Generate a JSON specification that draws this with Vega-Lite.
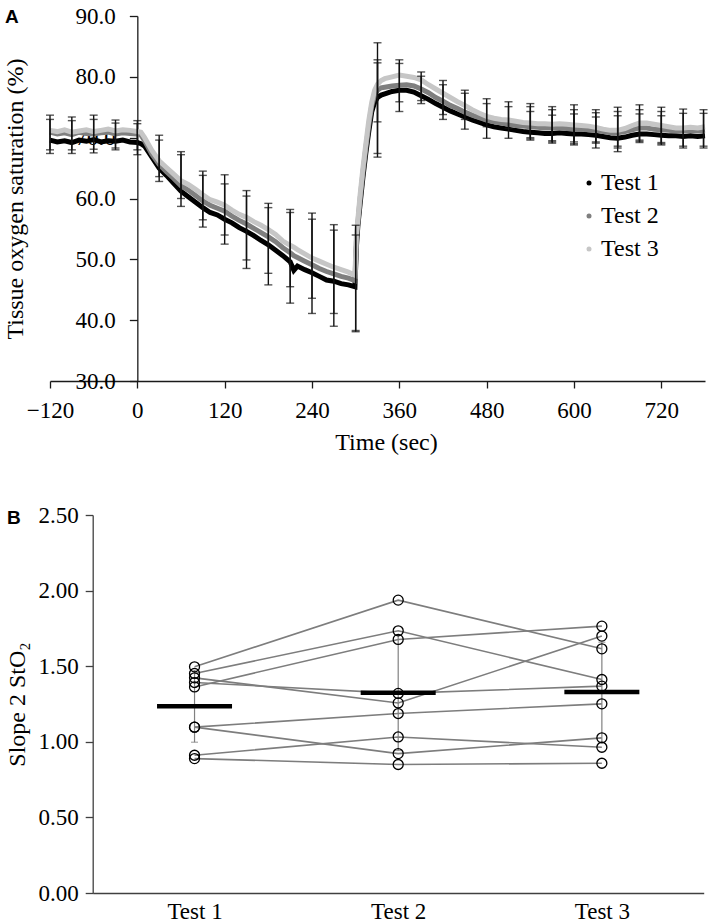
{
  "$schema": "https://vega.github.io/schema/vega-lite/v6.json",
  "background": "white",
  "padding": {"left": 3, "top": 5, "right": 5, "bottom": 5},
  "spacing": 134,
  "bounds": "flush",
  "config": {
    "view": {"stroke": null},
    "font": "Liberation Serif",
    "axis": {
      "labelFont": "Liberation Serif", "titleFont": "Liberation Serif",
      "labelColor": "#000", "titleColor": "#000", "titleFontWeight": "normal",
      "labelFontSize": 23, "titleFontSize": 24, "grid": false, "labelFlush": false, "labelOverlap": false
    }
  },
  "vconcat": [
    {
      "width": 655, "height": 365,
      "title": {"text": "A", "anchor": "start", "frame": "group", "orient": "top", "offset": -37, "dx": -45, "font": "Liberation Sans", "fontWeight": "bold", "fontSize": 19, "baseline": "alphabetic", "color": "#000"},
      "layer": [
        {
          "data": {"values": [
            {"t":-120,"Test 1":69.6,"Test 2":70.9,"Test 3":71.2},
            {"t":-110,"Test 1":69.3,"Test 2":70.6,"Test 3":71.0},
            {"t":-100,"Test 1":69.5,"Test 2":70.8,"Test 3":71.3},
            {"t":-90,"Test 1":69.2,"Test 2":70.5,"Test 3":70.9},
            {"t":-80,"Test 1":69.6,"Test 2":70.9,"Test 3":71.1},
            {"t":-70,"Test 1":69.4,"Test 2":70.7,"Test 3":71.3},
            {"t":-60,"Test 1":69.7,"Test 2":70.6,"Test 3":71.0},
            {"t":-50,"Test 1":69.3,"Test 2":70.8,"Test 3":71.2},
            {"t":-40,"Test 1":69.5,"Test 2":70.9,"Test 3":71.4},
            {"t":-30,"Test 1":69.4,"Test 2":70.6,"Test 3":71.1},
            {"t":-20,"Test 1":69.6,"Test 2":70.8,"Test 3":71.3},
            {"t":-10,"Test 1":69.3,"Test 2":70.7,"Test 3":71.2},
            {"t":0,"Test 1":69.2,"Test 2":70.6,"Test 3":71.0},
            {"t":5,"Test 1":69.0,"Test 2":70.4,"Test 3":70.9},
            {"t":10,"Test 1":68.6,"Test 2":69.5,"Test 3":70.0},
            {"t":20,"Test 1":66.8,"Test 2":67.3,"Test 3":67.9},
            {"t":30,"Test 1":65.0,"Test 2":65.6,"Test 3":66.2},
            {"t":40,"Test 1":63.8,"Test 2":64.4,"Test 3":65.1},
            {"t":50,"Test 1":62.5,"Test 2":63.3,"Test 3":64.0},
            {"t":60,"Test 1":61.2,"Test 2":62.1,"Test 3":62.9},
            {"t":70,"Test 1":60.3,"Test 2":61.4,"Test 3":62.3},
            {"t":80,"Test 1":59.4,"Test 2":60.5,"Test 3":61.5},
            {"t":90,"Test 1":58.5,"Test 2":59.6,"Test 3":60.6},
            {"t":100,"Test 1":57.7,"Test 2":58.9,"Test 3":59.8},
            {"t":110,"Test 1":57.3,"Test 2":58.4,"Test 3":59.4},
            {"t":120,"Test 1":56.6,"Test 2":57.9,"Test 3":58.9},
            {"t":130,"Test 1":56.0,"Test 2":57.1,"Test 3":58.1},
            {"t":140,"Test 1":55.2,"Test 2":56.4,"Test 3":57.4},
            {"t":150,"Test 1":54.6,"Test 2":55.8,"Test 3":56.9},
            {"t":160,"Test 1":53.9,"Test 2":55.1,"Test 3":56.2},
            {"t":170,"Test 1":53.1,"Test 2":54.4,"Test 3":55.6},
            {"t":180,"Test 1":52.4,"Test 2":53.7,"Test 3":54.9},
            {"t":190,"Test 1":51.5,"Test 2":52.9,"Test 3":54.1},
            {"t":200,"Test 1":50.6,"Test 2":51.9,"Test 3":53.0},
            {"t":210,"Test 1":49.6,"Test 2":51.1,"Test 3":52.3},
            {"t":215,"Test 1":48.2,"Test 2":50.6,"Test 3":52.0},
            {"t":220,"Test 1":48.9,"Test 2":50.3,"Test 3":51.6},
            {"t":230,"Test 1":48.3,"Test 2":49.7,"Test 3":50.9},
            {"t":240,"Test 1":47.8,"Test 2":49.1,"Test 3":50.2},
            {"t":250,"Test 1":47.2,"Test 2":48.5,"Test 3":49.7},
            {"t":260,"Test 1":46.6,"Test 2":48.0,"Test 3":49.2},
            {"t":270,"Test 1":46.4,"Test 2":47.6,"Test 3":48.7},
            {"t":280,"Test 1":46.0,"Test 2":47.2,"Test 3":48.3},
            {"t":290,"Test 1":45.8,"Test 2":46.9,"Test 3":47.9},
            {"t":299,"Test 1":45.5,"Test 2":46.5,"Test 3":47.4},
            {"t":301,"Test 1":52.0,"Test 2":53.0,"Test 3":54.0},
            {"t":303,"Test 1":55.5,"Test 2":56.0,"Test 3":56.5},
            {"t":306,"Test 1":59.0,"Test 2":59.8,"Test 3":60.5},
            {"t":310,"Test 1":63.5,"Test 2":64.3,"Test 3":65.0},
            {"t":314,"Test 1":67.5,"Test 2":68.3,"Test 3":69.0},
            {"t":318,"Test 1":71.0,"Test 2":72.0,"Test 3":72.8},
            {"t":322,"Test 1":74.2,"Test 2":75.2,"Test 3":75.8},
            {"t":326,"Test 1":75.8,"Test 2":77.0,"Test 3":77.8},
            {"t":330,"Test 1":76.6,"Test 2":77.8,"Test 3":78.8},
            {"t":335,"Test 1":77.0,"Test 2":78.2,"Test 3":79.4},
            {"t":340,"Test 1":77.2,"Test 2":78.3,"Test 3":79.7},
            {"t":350,"Test 1":77.6,"Test 2":78.5,"Test 3":80.0},
            {"t":360,"Test 1":77.8,"Test 2":78.6,"Test 3":80.3},
            {"t":370,"Test 1":77.8,"Test 2":78.7,"Test 3":80.1},
            {"t":380,"Test 1":77.5,"Test 2":78.5,"Test 3":79.9},
            {"t":390,"Test 1":76.9,"Test 2":78.0,"Test 3":79.5},
            {"t":400,"Test 1":76.3,"Test 2":77.4,"Test 3":78.7},
            {"t":410,"Test 1":75.6,"Test 2":76.6,"Test 3":78.0},
            {"t":420,"Test 1":75.0,"Test 2":76.0,"Test 3":77.3},
            {"t":430,"Test 1":74.4,"Test 2":75.3,"Test 3":76.6},
            {"t":440,"Test 1":73.9,"Test 2":74.8,"Test 3":75.9},
            {"t":450,"Test 1":73.4,"Test 2":74.2,"Test 3":75.3},
            {"t":460,"Test 1":72.9,"Test 2":73.7,"Test 3":74.6},
            {"t":470,"Test 1":72.5,"Test 2":73.3,"Test 3":74.0},
            {"t":480,"Test 1":72.1,"Test 2":72.9,"Test 3":73.5},
            {"t":490,"Test 1":71.8,"Test 2":72.6,"Test 3":73.2},
            {"t":500,"Test 1":71.6,"Test 2":72.4,"Test 3":73.0},
            {"t":510,"Test 1":71.4,"Test 2":72.2,"Test 3":72.9},
            {"t":520,"Test 1":71.2,"Test 2":72.0,"Test 3":72.7},
            {"t":530,"Test 1":71.0,"Test 2":71.9,"Test 3":72.5},
            {"t":540,"Test 1":70.9,"Test 2":71.8,"Test 3":72.4},
            {"t":550,"Test 1":70.8,"Test 2":71.7,"Test 3":72.3},
            {"t":560,"Test 1":70.7,"Test 2":71.6,"Test 3":72.3},
            {"t":570,"Test 1":70.7,"Test 2":71.6,"Test 3":72.2},
            {"t":580,"Test 1":70.8,"Test 2":71.6,"Test 3":72.3},
            {"t":590,"Test 1":70.7,"Test 2":71.5,"Test 3":72.2},
            {"t":600,"Test 1":70.6,"Test 2":71.5,"Test 3":72.1},
            {"t":610,"Test 1":70.6,"Test 2":71.4,"Test 3":72.0},
            {"t":620,"Test 1":70.5,"Test 2":71.3,"Test 3":71.9},
            {"t":630,"Test 1":70.4,"Test 2":71.2,"Test 3":71.7},
            {"t":640,"Test 1":70.2,"Test 2":71.0,"Test 3":71.4},
            {"t":650,"Test 1":70.0,"Test 2":70.8,"Test 3":71.2},
            {"t":660,"Test 1":69.9,"Test 2":70.8,"Test 3":71.2},
            {"t":670,"Test 1":70.1,"Test 2":71.0,"Test 3":71.5},
            {"t":680,"Test 1":70.4,"Test 2":71.3,"Test 3":72.0},
            {"t":690,"Test 1":70.6,"Test 2":71.6,"Test 3":72.4},
            {"t":700,"Test 1":70.6,"Test 2":71.6,"Test 3":72.4},
            {"t":710,"Test 1":70.5,"Test 2":71.4,"Test 3":72.2},
            {"t":720,"Test 1":70.4,"Test 2":71.3,"Test 3":72.0},
            {"t":730,"Test 1":70.3,"Test 2":71.2,"Test 3":71.8},
            {"t":740,"Test 1":70.3,"Test 2":71.1,"Test 3":71.6},
            {"t":750,"Test 1":70.2,"Test 2":71.1,"Test 3":71.6},
            {"t":760,"Test 1":70.3,"Test 2":71.2,"Test 3":71.7},
            {"t":770,"Test 1":70.2,"Test 2":71.1,"Test 3":71.6},
            {"t":780,"Test 1":70.3,"Test 2":71.2,"Test 3":71.8}
          ]},
          "transform": [{"fold": ["Test 1", "Test 2", "Test 3"], "as": ["test", "sto2"]}],
          "mark": {"type": "line", "strokeWidth": 5},
          "encoding": {
            "x": {"field": "t", "type": "quantitative",
              "scale": {"domain": [-120, 780], "nice": false, "zero": false},
              "axis": {"title": "Time (sec)", "values": [-120, 0, 120, 240, 360, 480, 600, 720], "tickSize": 7, "labelPadding": 11, "titlePadding": 8, "titleX": 336, "domainColor": "#1a1a1a", "tickColor": "#1a1a1a", "domainWidth": 1.3, "tickWidth": 1.3}},
            "y": {"field": "sto2", "type": "quantitative",
              "scale": {"domain": [30, 90], "nice": false, "zero": false},
              "axis": {"title": "Tissue oxygen saturation (%)", "values": [30, 40, 50, 60, 70, 80, 90], "format": ".1f", "offset": -87.33, "tickSize": 8, "labelPadding": 14, "titlePadding": 48, "domainColor": "#1a1a1a", "tickColor": "#1a1a1a", "domainWidth": 1.3, "tickWidth": 1.3}},
            "color": {"field": "test", "type": "nominal",
              "scale": {"domain": ["Test 1", "Test 2", "Test 3"], "range": ["#000000", "#7f7f7f", "#c6c6c6"]},
              "legend": {"title": null, "orient": "none", "legendX": 527, "legendY": 155, "symbolType": "circle", "symbolSize": 25, "symbolStrokeWidth": 0, "labelFont": "Liberation Serif", "labelFontSize": 24, "labelColor": "#000", "rowPadding": 9, "labelOffset": 0,
                "encode": {"symbols": {"update": {"fill": {"scale": "color", "field": "value"}, "opacity": {"value": 1}}}}}}
          }
        },
        {
          "data": {"values": [
            {"t":-120,"lo":67.4,"hi":73.7},{"t":-120,"lo":68.0,"hi":73.0},
            {"t":-90,"lo":67.4,"hi":73.4},{"t":-90,"lo":68.0,"hi":72.8},
            {"t":-60,"lo":67.5,"hi":73.7},{"t":-60,"lo":68.1,"hi":73.0},
            {"t":-30,"lo":68.0,"hi":72.9},{"t":-30,"lo":68.3,"hi":72.4},
            {"t":0,"lo":67.2,"hi":72.8},{"t":0,"lo":68.0,"hi":72.3},
            {"t":30,"lo":62.8,"hi":70.4},{"t":30,"lo":63.6,"hi":69.6},
            {"t":60,"lo":58.7,"hi":67.7},{"t":60,"lo":60.0,"hi":67.2},
            {"t":90,"lo":55.3,"hi":64.5},{"t":90,"lo":56.5,"hi":63.8},
            {"t":120,"lo":52.5,"hi":63.9},{"t":120,"lo":54.0,"hi":62.4},
            {"t":150,"lo":48.5,"hi":61.3},{"t":150,"lo":49.9,"hi":60.4},
            {"t":180,"lo":45.8,"hi":59.2},{"t":180,"lo":47.7,"hi":58.5},
            {"t":210,"lo":42.8,"hi":58.2},{"t":210,"lo":45.5,"hi":57.7},
            {"t":240,"lo":41.1,"hi":57.6},{"t":240,"lo":43.6,"hi":56.6},
            {"t":270,"lo":39.0,"hi":55.7},{"t":270,"lo":41.1,"hi":54.8},
            {"t":300,"lo":38.1,"hi":55.6},{"t":300,"lo":38.3,"hi":54.0},
            {"t":330,"lo":67.4,"hi":85.6},{"t":330,"lo":66.8,"hi":82.8},{"t":330,"lo":72.6,"hi":82.3},
            {"t":360,"lo":75.9,"hi":82.8},{"t":360,"lo":74.3,"hi":82.2},
            {"t":390,"lo":76.1,"hi":80.8},{"t":390,"lo":75.6,"hi":80.1},
            {"t":420,"lo":73.8,"hi":79.4},{"t":420,"lo":73.0,"hi":78.7},
            {"t":450,"lo":73.0,"hi":77.8},{"t":450,"lo":71.4,"hi":77.3},
            {"t":480,"lo":71.8,"hi":76.4},{"t":480,"lo":69.9,"hi":75.6},
            {"t":510,"lo":71.5,"hi":75.9},{"t":510,"lo":69.9,"hi":75.1},
            {"t":540,"lo":69.6,"hi":75.6},{"t":540,"lo":69.8,"hi":75.1},{"t":540,"lo":70.0,"hi":74.3},
            {"t":570,"lo":69.1,"hi":75.1},{"t":570,"lo":69.3,"hi":74.6},{"t":570,"lo":69.5,"hi":73.7},
            {"t":600,"lo":68.8,"hi":75.4},{"t":600,"lo":69.0,"hi":74.6},{"t":600,"lo":69.3,"hi":73.9},
            {"t":630,"lo":68.3,"hi":74.6},{"t":630,"lo":69.1,"hi":74.1},{"t":630,"lo":69.3,"hi":73.4},
            {"t":660,"lo":67.7,"hi":75.0},{"t":660,"lo":68.3,"hi":74.3},{"t":660,"lo":68.6,"hi":73.6},
            {"t":690,"lo":69.2,"hi":75.4},{"t":690,"lo":69.4,"hi":74.6},{"t":690,"lo":69.6,"hi":73.9},
            {"t":720,"lo":68.8,"hi":75.0},{"t":720,"lo":69.0,"hi":74.3},{"t":720,"lo":69.2,"hi":73.6},
            {"t":750,"lo":68.3,"hi":74.7},{"t":750,"lo":68.6,"hi":74.0},
            {"t":778,"lo":68.3,"hi":74.6},{"t":778,"lo":68.6,"hi":74.0}
          ]},
          "mark": {"type": "errorbar", "ticks": {"size": 8, "thickness": 1.4, "color": "#111"}, "rule": {"strokeWidth": 1.4, "color": "#111"}},
          "encoding": {
            "x": {"field": "t", "type": "quantitative"},
            "y": {"field": "lo", "type": "quantitative", "title": "Tissue oxygen saturation (%)"},
            "y2": {"field": "hi"}
          }
        }
      ]
    },
    {
      "width": 654, "height": 378,
      "title": {"text": "B", "anchor": "start", "frame": "group", "orient": "top", "offset": -39, "dx": -43, "font": "Liberation Sans", "fontWeight": "bold", "fontSize": 19, "baseline": "alphabetic", "color": "#000"},
      "data": {"values": [
        {"subject":"a","test":"Test 1","value":1.496},{"subject":"a","test":"Test 2","value":1.937},{"subject":"a","test":"Test 3","value":1.615},
        {"subject":"b","test":"Test 1","value":1.452},{"subject":"b","test":"Test 2","value":1.734},{"subject":"b","test":"Test 3","value":1.412},
        {"subject":"c","test":"Test 1","value":1.363},{"subject":"c","test":"Test 2","value":1.677},{"subject":"c","test":"Test 3","value":1.765},
        {"subject":"d","test":"Test 1","value":1.392},{"subject":"d","test":"Test 2","value":1.320},{"subject":"d","test":"Test 3","value":1.368},
        {"subject":"e","test":"Test 1","value":1.423},{"subject":"e","test":"Test 2","value":1.257},{"subject":"e","test":"Test 3","value":1.699},
        {"subject":"f","test":"Test 1","value":1.097},{"subject":"f","test":"Test 2","value":1.187},{"subject":"f","test":"Test 3","value":1.251},
        {"subject":"g","test":"Test 1","value":1.097},{"subject":"g","test":"Test 2","value":0.922},{"subject":"g","test":"Test 3","value":1.026},
        {"subject":"h","test":"Test 1","value":0.911},{"subject":"h","test":"Test 2","value":1.032},{"subject":"h","test":"Test 3","value":0.964},
        {"subject":"i","test":"Test 1","value":0.889},{"subject":"i","test":"Test 2","value":0.850},{"subject":"i","test":"Test 3","value":0.858}
      ]},
      "layer": [
        {
          "mark": {"type": "line", "color": "#7d7d7d", "strokeWidth": 1.6},
          "encoding": {
            "x": {"field": "test", "type": "nominal", "scale": {"type": "point", "padding": 0.5, "range": [42.7, 653.7]},
              "axis": {"title": null, "labelAngle": 0, "ticks": false, "labelPadding": 7, "domainColor": "#404040", "domainWidth": 1.3}},
            "y": {"field": "value", "type": "quantitative", "title": "Slope 2 StO₂",
              "scale": {"domain": [0, 2.5], "nice": false},
              "axis": {"values": [0, 0.5, 1, 1.5, 2, 2.5], "format": ".2f", "offset": -42.7, "tickSize": 7.5, "labelPadding": 7, "titlePadding": 8, "domainColor": "#404040", "tickColor": "#404040", "domainWidth": 1.3, "tickWidth": 1.3}},
            "detail": {"field": "subject", "type": "nominal"}
          }
        },
        {
          "mark": {"type": "errorbar", "extent": "stdev", "ticks": {"size": 7, "color": "#808080", "thickness": 1.2}, "rule": {"color": "#808080", "strokeWidth": 1.2}},
          "encoding": {
            "x": {"field": "test", "type": "nominal"},
            "y": {"field": "value", "type": "quantitative", "title": "Slope 2 StO₂"}
          }
        },
        {
          "mark": {"type": "tick", "size": 75, "thickness": 4.5, "color": "#000", "opacity": 1},
          "encoding": {
            "x": {"field": "test", "type": "nominal"},
            "y": {"aggregate": "mean", "field": "value", "type": "quantitative", "title": "Slope 2 StO₂"}
          }
        },
        {
          "mark": {"type": "point", "shape": "circle", "size": 100, "filled": false, "stroke": "#000", "strokeWidth": 1.3, "opacity": 1},
          "encoding": {
            "x": {"field": "test", "type": "nominal"},
            "y": {"field": "value", "type": "quantitative", "title": "Slope 2 StO₂"}
          }
        }
      ]
    }
  ]
}
